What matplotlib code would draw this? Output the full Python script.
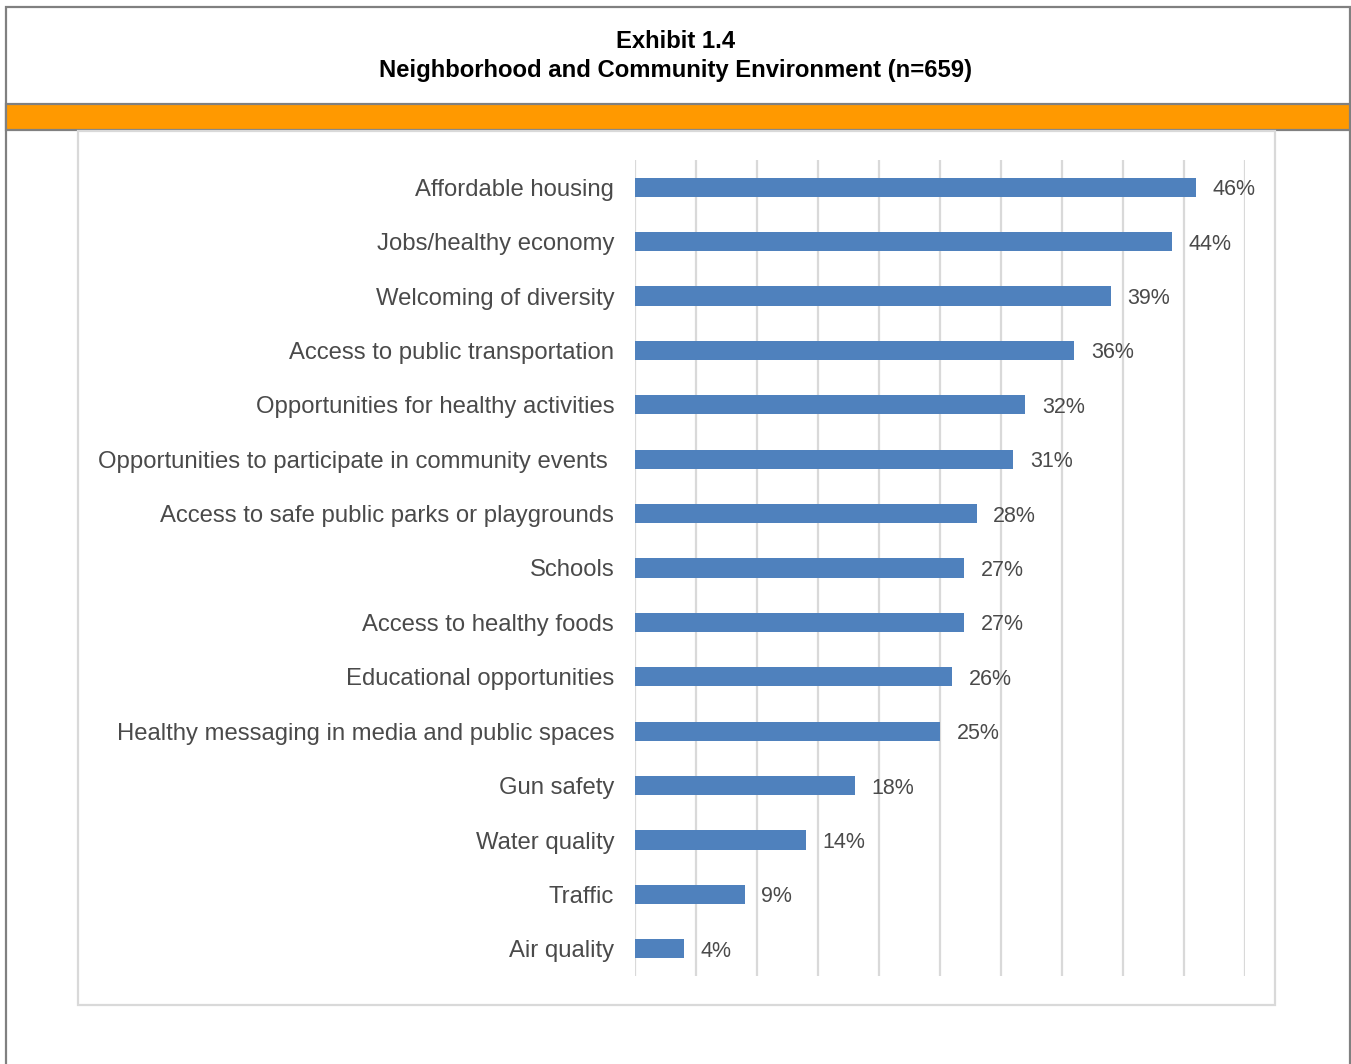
import matplotlib.pyplot as plt
from matplotlib.patches import Rectangle
import numpy as np

categories = ['Affordable housing', 'Jobs/healthy economy', 'Welcoming of diversity',
              'Access to public transportation', 'Opportunities for healthy activities',
              'Opportunities to participate in community events ',
              'Access to safe public parks or playgrounds', 'Schools',
              'Access to healthy foods', 'Educational opportunities',
              'Healthy messaging in media and public spaces', 'Gun safety',
              'Water quality', 'Traffic', 'Air quality']
values = [46, 44, 39, 36, 32, 31, 28, 27, 27, 26, 25, 18, 14, 9, 4]
xticks = np.arange(0, 55, 5)

W, H = 1351, 1064
plt.rcParams['font.family'] = ['Liberation Sans', 'DejaVu Sans']

fig = plt.figure(figsize=(W / 100, H / 100), dpi=100)


def box(x0, y0, x1, y1, **kw):
    # pixel coords (top-left origin) -> figure fraction rectangle
    r = Rectangle((x0 / W, 1 - y1 / H), (x1 - x0) / W, (y1 - y0) / H,
                  transform=fig.transFigure, **kw)
    fig.patches.append(r)


# outer frame, orange band, inner chart frame
box(6, 7, 1350, 1080, fill=False, edgecolor='#808080', linewidth=1.6)
box(6, 104, 1350, 130, facecolor='#FF9900', edgecolor='#808080', linewidth=1.6)
box(78, 131, 1275, 1005, fill=False, edgecolor='#D9D9D9', linewidth=1.6)

fig.text(0.5, 1 - 42 / H, 'Exhibit 1.4', ha='center', va='center',
         fontsize=17.2, fontweight='bold', color='black')
fig.text(0.5, 1 - 70 / H, 'Neighborhood and Community Environment (n=659)', ha='center',
         va='center', fontsize=17.2, fontweight='bold', color='black')

ax = fig.add_axes([635 / W, 1 - 976 / H, (1245 - 635) / W, (976 - 160) / H])
y = np.arange(len(categories))
ax.barh(y, values, height=0.35, color='#4F81BD', zorder=3)
ax.set_xlim(0, 50)
ax.set_ylim(len(categories) - 0.5, -0.5)
ax.set_xticks(xticks)
ax.set_xticklabels([])
ax.set_yticks(y)
ax.set_yticklabels(categories, fontsize=17.2, color='#4a4a4a')
ax.tick_params(length=0, pad=15)
ax.grid(axis='x', color='#D9D9D9', linewidth=1.6, zorder=0)
for s in ax.spines.values():
    s.set_visible(False)

for yi, v in zip(y, values):
    ax.annotate(f'{v}%', (v, yi), xytext=(12, 0), textcoords='offset points',
                va='center_baseline', ha='left', fontsize=15.5, color='#4a4a4a')

fig.savefig('out.png', dpi=100)
